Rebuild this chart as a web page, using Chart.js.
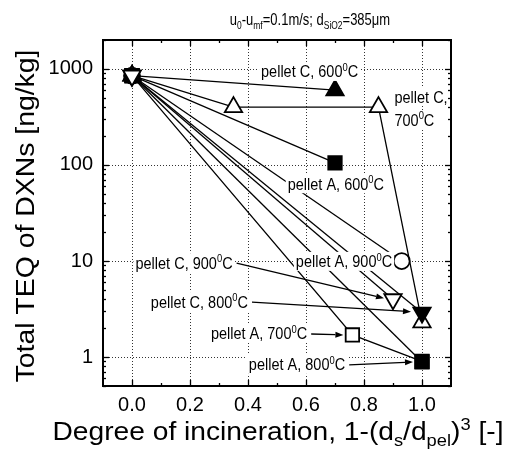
<!DOCTYPE html>
<html><head><meta charset="utf-8">
<script src="https://cdn.jsdelivr.net/npm/chart.js@4"></script>
<style>html,body{margin:0;padding:0;background:#fff}#wrap{width:506px;height:460px;position:relative}</style>
</head><body><div id="wrap"><canvas id="c" width="506" height="460"></canvas></div>
<script>
// ---- data ----
const xTickValues = [0, 0.2, 0.4, 0.6, 0.8, 1.0];
const yTickValues = [1, 10, 100, 1000];

const pC600_x = [0, 0.70];            const pC600_y = [850, 600];
const pC700_x = [0, 0.35, 0.85, 1.0]; const pC700_y = [850, 400, 400, 2.3];
const pC800_x = [0, 1.0];             const pC800_y = [850, 2.9];
const pC900_x = [0, 0.90];            const pC900_y = [850, 4.0];
const pA600_x = [0, 0.70];            const pA600_y = [850, 105];
const pA700_x = [0, 0.76, 1.0];       const pA700_y = [850, 1.7, 0.9];
const pA800_x = [0, 1.0];             const pA800_y = [850, 0.89];
const pA900_x = [0, 0.93];            const pA900_y = [850, 10];

const FONT = '"Liberation Sans", Arial, Helvetica, sans-serif';

function pts(xs, ys) { return xs.map((x, i) => ({ x: x, y: ys[i] })); }

function ds(label, xs, ys, style, filled, rot, r) {
  return {
    label: label, data: pts(xs, ys), showLine: true, tension: 0, fill: false,
    borderColor: '#000', borderWidth: 1.3,
    pointStyle: style, pointRotation: rot || 0, pointRadius: r, pointHoverRadius: r,
    pointBackgroundColor: filled ? '#000' : '#fff', pointBorderColor: '#000', pointBorderWidth: 1.8
  };
}

const datasets = [
  ds('pellet C, 900°C', pC900_x, pC900_y, 'triangle', false, 180, 10),
  ds('pellet A, 800°C', pA800_x, pA800_y, 'rect', true, 0, 9.5),
  ds('pellet A, 700°C', pA700_x, pA700_y, 'rect', false, 0, 9.5),
  ds('pellet C, 800°C', pC800_x, pC800_y, 'triangle', true, 180, 10),
  ds('pellet C, 700°C', pC700_x, pC700_y, 'triangle', false, 0, 10),
  ds('pellet A, 900°C', pA900_x, pA900_y, 'circle', false, 0, 8),
  ds('pellet A, 600°C', pA600_x, pA600_y, 'rect', true, 0, 9.5),
  ds('pellet C, 600°C', pC600_x, pC600_y, 'triangle', true, 0, 10)
];

// ---- annotation texts (label anchor in data units) ----
const deg = (t) => [[t, 'n'], ['0', 'sup'], ['C', 'n']];
const annotations = [
  { lines: [deg('pellet C, 600')], x: 0.445, y: 930 },
  { lines: [[['pellet C,', 'n']], deg('700')], x: 0.905, y: 510 },
  { lines: [deg('pellet A, 600')], x: 0.537, y: 63 },
  { lines: [deg('pellet C, 900')], x: 0.012, y: 9.5, arrow: { x: 0.90, y: 4.0, dx: -9, dy: -1 } },
  { lines: [deg('pellet A, 900')], x: 0.565, y: 9.8 },
  { lines: [deg('pellet C, 800')], x: 0.065, y: 3.74, arrow: { x: 1.0, y: 2.9, dx: -11, dy: -1 } },
  { lines: [deg('pellet A, 700')], x: 0.272, y: 1.74, arrow: { x: 0.76, y: 1.7, dx: -9, dy: 0 } },
  { lines: [deg('pellet A, 800')], x: 0.403, y: 0.83, arrow: { x: 1.0, y: 0.89, dx: -9, dy: 0 } }
];

function richWidth(ctx, segs, size) {
  let w = 0;
  for (const [t, m] of segs) {
    ctx.font = (m === 'n' ? size : size * 0.65) + 'px ' + FONT;
    w += ctx.measureText(t).width;
  }
  return w;
}
function drawRich(ctx, segs, x, y, size, sx, sy) {
  ctx.save();
  ctx.translate(x, y); ctx.scale(sx || 1, sy || 1);
  let cx = 0;
  for (const [t, m] of segs) {
    const s = m === 'n' ? size : size * 0.65;
    ctx.font = s + 'px ' + FONT;
    const dy = m === 'sup' ? -size * 0.4 : (m === 'sub' ? size * 0.25 : 0);
    ctx.fillText(t, cx, dy);
    cx += ctx.measureText(t).width;
  }
  ctx.restore();
}
function arrowLine(ctx, x1, y1, x2, y2) {
  ctx.beginPath(); ctx.moveTo(x1, y1);
  const a = Math.atan2(y2 - y1, x2 - x1);
  const L = 8, W = 3;
  const bx = x2 - L * Math.cos(a), by = y2 - L * Math.sin(a);
  ctx.lineTo(bx, by); ctx.stroke();
  ctx.beginPath(); ctx.moveTo(x2, y2);
  ctx.lineTo(bx + W * Math.sin(a), by - W * Math.cos(a));
  ctx.lineTo(bx - W * Math.sin(a), by + W * Math.cos(a));
  ctx.closePath(); ctx.fill();
}

const decorPlugin = {
  id: 'decor',
  beforeDatasetsDraw(chart) {
    const ctx = chart.ctx, xs = chart.scales.x, ys = chart.scales.y;
    const { left, right, top, bottom } = chart.chartArea;
    ctx.save();
    ctx.strokeStyle = '#333'; ctx.lineWidth = 1; ctx.setLineDash([1, 2]);
    for (const v of xTickValues) {
      const px = Math.round(xs.getPixelForValue(v)) + 0.5;
      ctx.beginPath(); ctx.moveTo(px, top); ctx.lineTo(px, bottom); ctx.stroke();
    }
    for (const v of yTickValues) {
      const py = Math.round(ys.getPixelForValue(v)) + 0.5;
      ctx.beginPath(); ctx.moveTo(left, py); ctx.lineTo(right, py); ctx.stroke();
    }
    ctx.restore();
  },
  afterDatasetsDraw(chart) {
    const ctx = chart.ctx, xs = chart.scales.x, ys = chart.scales.y;
    ctx.save();
    ctx.textBaseline = 'alphabetic'; ctx.textAlign = 'left';
    const size = 14.5, lh = 23;
    for (const an of annotations) {
      const lx = xs.getPixelForValue(an.x), ly = ys.getPixelForValue(an.y);
      let maxW = 0;
      an.lines.forEach((segs, i) => {
        const w = richWidth(ctx, segs, size);
        maxW = Math.max(maxW, w);
        const cy = ly + i * lh;
        ctx.fillStyle = '#fff';
        ctx.fillRect(lx - 2, cy - 10, w + 4, 19);
        ctx.fillStyle = '#000';
        drawRich(ctx, segs, lx, cy + 5.5, size, 1, 1.1);
      });
      if (an.arrow) {
        const tx = xs.getPixelForValue(an.arrow.x) + an.arrow.dx;
        const ty = ys.getPixelForValue(an.arrow.y) + an.arrow.dy;
        ctx.strokeStyle = '#000'; ctx.fillStyle = '#000'; ctx.lineWidth = 1.3;
        arrowLine(ctx, lx + maxW + 4, ly, tx, ty);
      }
    }
    ctx.restore();
  },
  afterDraw(chart) {
    const ctx = chart.ctx, xs = chart.scales.x, ys = chart.scales.y;
    const { left, right, top, bottom } = chart.chartArea;
    ctx.save();
    ctx.strokeStyle = '#000';
    ctx.lineWidth = 1.3;
    for (let i = -1; i <= 11; i++) {
      const v = i / 10;
      const px = Math.round(xs.getPixelForValue(v)) + 0.5;
      if (px < left + 1 || px > right - 1) continue;
      const L = (i % 2 === 0 && i >= 0) ? 6 : 3;
      ctx.beginPath(); ctx.moveTo(px, bottom); ctx.lineTo(px, bottom - L); ctx.stroke();
      ctx.beginPath(); ctx.moveTo(px, top); ctx.lineTo(px, top + L); ctx.stroke();
    }
    for (let d = -1; d <= 3; d++) {
      for (let m = 1; m <= 9; m++) {
        const v = m * Math.pow(10, d);
        if (v < ys.min || v > ys.max) continue;
        const py = Math.round(ys.getPixelForValue(v)) + 0.5;
        const L = m === 1 ? 6 : 3;
        ctx.beginPath(); ctx.moveTo(left, py); ctx.lineTo(left + L, py); ctx.stroke();
        ctx.beginPath(); ctx.moveTo(right, py); ctx.lineTo(right - L, py); ctx.stroke();
      }
    }
    ctx.lineWidth = 2;
    ctx.strokeRect(left, top, right - left, bottom - top);

    // titles
    ctx.fillStyle = '#000'; ctx.textAlign = 'left'; ctx.textBaseline = 'alphabetic';
    const tSegs = [['u', 'n'], ['0', 'sub'], ['-u', 'n'], ['mf', 'sub'], ['=0.1m/s; d', 'n'], ['SiO2', 'sub'], ['=385\u03bcm', 'n']];
    const tw = richWidth(ctx, tSegs, 13);
    drawRich(ctx, tSegs, 310 - tw / 2, 25, 13, 1, 1.3);

    const xSegs = [['Degree of incineration, 1-(d', 'n'], ['s', 'sub'], ['/d', 'n'], ['pel', 'sub'], [')', 'n'], ['3', 'sup'], [' [-]', 'n']];
    const xSize = 25;
    const xw = richWidth(ctx, xSegs, xSize);
    const xsx = 451 / xw;
    drawRich(ctx, xSegs, 278 - 451 / 2, 440, xSize, xsx, 1);

    ctx.save();
    ctx.font = '25px ' + FONT;
    const yw = ctx.measureText('Total TEQ of DXNs [ng/kg]').width;
    ctx.translate(34, 216); ctx.rotate(-Math.PI / 2);
    ctx.scale(333 / yw, 1.05);
    ctx.textAlign = 'center';
    ctx.fillText('Total TEQ of DXNs [ng/kg]', 0, 0);
    ctx.restore();
    ctx.restore();
  }
};

new Chart(document.getElementById('c'), {
  type: 'line',
  data: { datasets: datasets },
  options: {
    responsive: false, animation: false, devicePixelRatio: 1,
    layout: { padding: { left: 0, top: 40, right: 55, bottom: 0 } },
    plugins: { legend: { display: false }, title: { display: false }, tooltip: { enabled: false } },
    scales: {
      x: {
        type: 'linear', min: -0.1, max: 1.1,
        grid: { display: false, drawTicks: false }, border: { display: false },
        afterBuildTicks: (s) => { s.ticks = xTickValues.map(v => ({ value: v })); },
        afterFit: (s) => { s.height = 74; },
        ticks: { color: '#000', padding: 7, font: { family: FONT, size: 20 }, autoSkip: false, maxRotation: 0,
                 callback: (v) => Number(v).toFixed(1) }
      },
      y: {
        type: 'logarithmic', min: 0.5, max: 2000,
        grid: { display: false, drawTicks: false }, border: { display: false },
        afterBuildTicks: (s) => { s.ticks = yTickValues.map(v => ({ value: v })); },
        afterFit: (s) => { s.width = 103; },
        ticks: { color: '#000', padding: 10, font: { family: FONT, size: 20 }, autoSkip: false,
                 callback: (v) => String(v) }
      }
    }
  },
  plugins: [decorPlugin]
});
</script></body></html>
